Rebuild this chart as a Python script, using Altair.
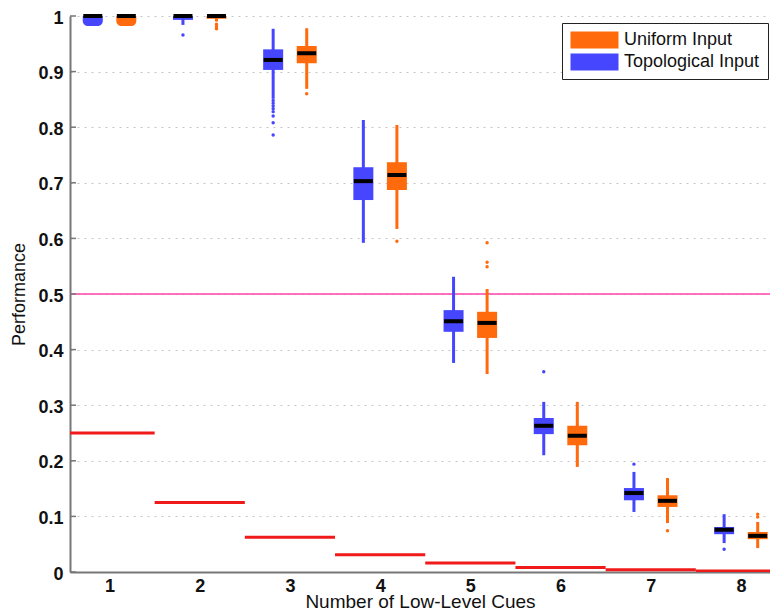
import altair as alt
import pandas as pd

# ---------------- data ----------------
cues = [1, 2, 3, 4, 5, 6, 7, 8]

topo_whisker_low  = [0.982, 0.984, 0.851, 0.592, 0.376, 0.210, 0.108, 0.052]
topo_q1           = [0.982, 0.993, 0.903, 0.669, 0.432, 0.248, 0.129, 0.068]
topo_median       = [1.000, 1.000, 0.921, 0.703, 0.451, 0.263, 0.142, 0.076]
topo_q3           = [1.000, 1.000, 0.940, 0.728, 0.471, 0.277, 0.151, 0.081]
topo_whisker_high = [1.000, 1.000, 0.977, 0.813, 0.531, 0.306, 0.180, 0.104]
topo_outlier_cue  = [2, 3, 3, 3, 3, 3, 3, 3, 3, 6, 7, 8]
topo_outlier_val  = [0.966, 0.848, 0.843, 0.838, 0.833, 0.828, 0.820, 0.808, 0.786, 0.360, 0.194, 0.041]

unif_whisker_low  = [0.982, 0.990, 0.869, 0.617, 0.356, 0.189, 0.088, 0.043]
unif_q1           = [0.982, 0.995, 0.915, 0.687, 0.421, 0.228, 0.117, 0.059]
unif_median       = [1.000, 1.000, 0.933, 0.714, 0.448, 0.245, 0.128, 0.065]
unif_q3           = [1.000, 1.000, 0.946, 0.737, 0.468, 0.263, 0.138, 0.072]
unif_whisker_high = [1.000, 1.000, 0.978, 0.804, 0.509, 0.306, 0.169, 0.090]
unif_outlier_cue  = [2, 2, 2, 3, 4, 5, 5, 5, 7, 8, 8]
unif_outlier_val  = [0.985, 0.981, 0.977, 0.860, 0.595, 0.592, 0.557, 0.549, 0.074, 0.104, 0.099]

chance_level = [0.25, 0.125, 0.0625, 0.031, 0.016, 0.008, 0.004, 0.002]
threshold = [0.5]
y_ticks = [0, 0.1, 0.2, 0.3, 0.4, 0.5, 0.6, 0.7, 0.8, 0.9, 1]

series_names = ["Uniform Input", "Topological Input"]

# ---------------- styles ----------------
BLUE = "#4646ff"
ORANGE = "#ff6a0d"
RED = "#f01a1a"
PINK = "#ff45a8"
AXIS = "#777777"
FONT = "Liberation Sans"


def box_rows(name, wl, a, m, b, wh):
    return [dict(cue=c, input=name, wlo=wl[i], q1=a[i], med=m[i], q3=b[i], whi=wh[i])
            for i, c in enumerate(cues)]


box_df = pd.DataFrame(
    box_rows("Topological Input", topo_whisker_low, topo_q1, topo_median, topo_q3, topo_whisker_high)
    + box_rows("Uniform Input", unif_whisker_low, unif_q1, unif_median, unif_q3, unif_whisker_high)
)
out_df = pd.DataFrame({
    "cue": topo_outlier_cue + unif_outlier_cue,
    "value": topo_outlier_val + unif_outlier_val,
    "input": ["Topological Input"] * len(topo_outlier_cue) + ["Uniform Input"] * len(unif_outlier_cue),
})
chance_df = pd.DataFrame({"cue": cues, "level": chance_level})
thr_df = pd.DataFrame({"level": threshold})
ticks_df = pd.DataFrame({"v": y_ticks})

x_scale = alt.Scale(domain=[0.617, 8.267], nice=False, zero=False)
y_scale = alt.Scale(domain=[0, 1], nice=False, zero=False)
color_scale = alt.Scale(domain=series_names, range=[ORANGE, BLUE])

x_axis = alt.Axis(values=cues, title="Number of Low-Level Cues", grid=False, ticks=False,
                  labelFontSize=18, labelFontWeight="bold", labelPadding=5,
                  titleFontSize=19, titleFontWeight="normal", titlePadding=-3,
                  domainColor=AXIS, domainWidth=2, labelColor="#111111", titleColor="#111111")
y_axis = alt.Axis(values=y_ticks, format="~g", title="Performance", grid=True,
                  gridDash=[2, 5], gridColor="#c4c4c4", gridWidth=1, ticks=False,
                  labelFontSize=18, labelFontWeight="bold", labelPadding=7, labelOffset=2,
                  titleFontSize=18, titleFontWeight="normal", titlePadding=9,
                  domainColor=AXIS, domainWidth=2, labelColor="#111111", titleColor="#111111")

xpos_expr = "datum.cue + (datum.input == 'Uniform Input' ? 0.186 : -0.186)"


def X(field):
    return alt.X(field, scale=x_scale, axis=x_axis)


def Y(field):
    return alt.Y(field, scale=y_scale, axis=y_axis)


legend = alt.Legend(title=None, orient="none", legendX=492, legendY=7,
                    symbolType="M-1,-1H4.647V1H-1Z", symbolSize=289, symbolStrokeWidth=0,
                    labelFontSize=18, labelFont=FONT, labelColor="#111111",
                    padding=8, rowPadding=4, strokeColor="#222222", fillColor="white",
                    labelOffset=36, cornerRadius=0)


def C():
    return alt.Color("input:N", scale=color_scale, legend=legend)


chance = alt.Chart(chance_df).transform_calculate(
    lo="datum.cue - 0.5", hi="datum.cue + 0.5"
).mark_rule(color=RED, strokeWidth=3, clip=True).encode(
    x=X("lo:Q"), x2="hi:Q", y=Y("level:Q"),
)

thr = alt.Chart(thr_df).mark_rule(color=PINK, strokeWidth=1.5).encode(y=Y("level:Q"))

inticks = alt.Chart(ticks_df).mark_rule(color=AXIS, strokeWidth=1.5).encode(
    y=Y("v:Q"), x=alt.value(0), x2=alt.value(6)
)

base = alt.Chart(box_df).transform_calculate(xpos=xpos_expr)

whiskers = base.mark_rule(strokeWidth=3).encode(
    x=X("xpos:Q"), y=Y("wlo:Q"), y2="whi:Q", color=C(),
)

boxes = base.transform_filter("datum.cue > 1").mark_bar(size=20).encode(
    x=X("xpos:Q"), y=Y("q1:Q"), y2="q3:Q", color=C(),
)

caps = base.transform_filter("datum.cue == 1").mark_bar(
    size=20, cornerRadiusBottomLeft=10, cornerRadiusBottomRight=10
).encode(
    x=X("xpos:Q"), y=Y("q1:Q"), y2="q3:Q", color=C(),
)

outliers = alt.Chart(out_df).transform_calculate(xpos=xpos_expr).mark_circle(size=12, opacity=1).encode(
    x=X("xpos:Q"), y=Y("value:Q"), color=C(),
)

medians = base.mark_tick(orient="horizontal", size=19, thickness=4, color="black", opacity=1).encode(
    x=X("xpos:Q"), y=Y("med:Q")
)

chart = alt.layer(chance, thr, inticks, whiskers, boxes, caps, outliers, medians).properties(
    width=700, height=556,
    autosize=alt.AutoSizeParams(type="none"),
    padding={"left": 62, "top": 8, "right": 0, "bottom": 36},
).configure_view(strokeOpacity=0).configure_axis(
    labelFont=FONT, titleFont=FONT
).configure_legend(labelFont=FONT)

chart.save("out.html", embed_options={"renderer": "svg", "actions": False})
